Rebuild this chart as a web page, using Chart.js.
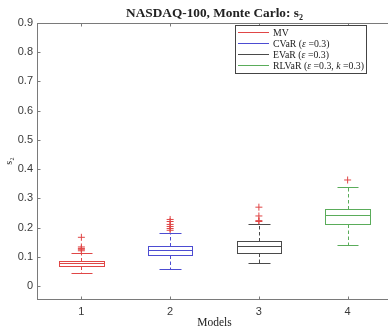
<!DOCTYPE html>
<html>
<head>
<meta charset="utf-8">
<script src="https://cdn.jsdelivr.net/npm/chart.js@4.4.1/dist/chart.umd.min.js"></script>
<style>
  html, body { margin: 0; padding: 0; background: #fff; }
  #wrap { width: 388px; height: 332px; overflow: hidden; position: relative; }
  canvas { display: block; }
</style>
</head>
<body>
<div id="wrap"><canvas id="c" width="397" height="332"></canvas></div>
<script>
// ---- data ----
const models = [1, 2, 3, 4];
const seriesNames = [
  [["MV", false]],
  [["CVaR (", false], ["ε", true], [" =0.3)", false]],
  [["EVaR (", false], ["ε", true], [" =0.3)", false]],
  [["RLVaR (", false], ["ε", true], [" =0.3, ", false], ["k", true], [" =0.3)", false]]
];
const seriesColors = ["#e04646", "#4c4cd2", "#4a4a4a", "#5aac5a"];
const whiskerLow  = [0.044, 0.058, 0.079, 0.140];
const q1          = [0.0685, 0.106, 0.115, 0.211];
const medians     = [0.078, 0.122, 0.136, 0.244];
const q3          = [0.0858, 0.138, 0.156, 0.265];
const whiskerHigh = [0.115, 0.182, 0.211, 0.338];
const outliersMV    = [0.121, 0.126, 0.129, 0.134, 0.167];
const outliersCVaR  = [0.191, 0.197, 0.204, 0.211, 0.221, 0.228];
const outliersEVaR  = [0.221, 0.224, 0.240, 0.270];
const outliersRLVaR = [0.363];
const yTicks = [0, 0.1, 0.2, 0.3, 0.4, 0.5, 0.6, 0.7, 0.8, 0.9];
const xTicks = [1, 2, 3, 4];

const outlierSets = [outliersMV, outliersCVaR, outliersEVaR, outliersRLVaR];
const outlierColor = "#e04646";
const axisColor = "#7a7a7a";

const boxPlugin = {
  id: "boxes",
  afterDatasetsDraw(chart) {
    const ctx = chart.ctx, xs = chart.scales.x, ys = chart.scales.y;
    const r = v => Math.round(v) + 0.5;
    ctx.save();
    ctx.lineWidth = 1;
    models.forEach((m, i) => {
      const col = seriesColors[i];
      const xl = r(xs.getPixelForValue(m - 0.25));
      const xr = r(xs.getPixelForValue(m + 0.25));
      const cl = r(xs.getPixelForValue(m - 0.12));
      const cr = r(xs.getPixelForValue(m + 0.12));
      const xc = r(xs.getPixelForValue(m));
      const yq1 = r(ys.getPixelForValue(q1[i]));
      const yq3 = r(ys.getPixelForValue(q3[i]));
      const ym = r(ys.getPixelForValue(medians[i]));
      const ylo = r(ys.getPixelForValue(whiskerLow[i]));
      const yhi = r(ys.getPixelForValue(whiskerHigh[i]));
      ctx.strokeStyle = col;
      ctx.setLineDash([3.5, 2.5]);
      ctx.beginPath();
      ctx.moveTo(xc, yq3); ctx.lineTo(xc, yhi);
      ctx.moveTo(xc, yq1); ctx.lineTo(xc, ylo);
      ctx.stroke();
      ctx.setLineDash([]);
      ctx.beginPath();
      ctx.moveTo(cl, yhi); ctx.lineTo(cr, yhi);
      ctx.moveTo(cl, ylo); ctx.lineTo(cr, ylo);
      ctx.stroke();
      ctx.strokeRect(xl, yq3, xr - xl, yq1 - yq3);
      ctx.beginPath();
      ctx.moveTo(xl, ym); ctx.lineTo(xr, ym);
      ctx.stroke();
    });
    ctx.restore();
  },
  afterDraw(chart) {
    const ctx = chart.ctx, xs = chart.scales.x, ys = chart.scales.y;
    const a = chart.chartArea;
    const L = Math.round(a.left) + 0.5, R = Math.round(a.right) - 0.5;
    const T = Math.round(a.top) + 0.5, B = Math.round(a.bottom) + 0.5;
    ctx.save();
    ctx.strokeStyle = axisColor;
    ctx.lineWidth = 1;
    ctx.strokeRect(L, T, R - L, B - T);
    const tl = 3;
    ctx.beginPath();
    yTicks.forEach(v => {
      const y = Math.round(ys.getPixelForValue(v)) + 0.5;
      ctx.moveTo(L, y); ctx.lineTo(L + tl, y);
      ctx.moveTo(R, y); ctx.lineTo(R - tl, y);
    });
    xTicks.forEach(v => {
      const x = Math.round(xs.getPixelForValue(v)) + 0.5;
      ctx.moveTo(x, B); ctx.lineTo(x, B - tl);
      ctx.moveTo(x, T); ctx.lineTo(x, T + tl);
    });
    ctx.stroke();

    // legend
    const lx = 235.5, ly = 25.5, lw = 131, lh = 48;
    ctx.fillStyle = "#fff";
    ctx.fillRect(lx, ly, lw, lh);
    ctx.strokeStyle = "#444";
    ctx.strokeRect(lx, ly, lw, lh);
    ctx.textBaseline = "middle";
    ctx.textAlign = "left";
    seriesNames.forEach((segs, i) => {
      const y = 32.5 + i * 11;
      ctx.strokeStyle = seriesColors[i];
      ctx.beginPath();
      ctx.moveTo(238, y); ctx.lineTo(269, y);
      ctx.stroke();
      let x = 273;
      ctx.fillStyle = "#222";
      segs.forEach(([t, it]) => {
        ctx.font = (it ? "italic " : "") + "9.8px 'Liberation Serif', 'DejaVu Serif', serif";
        ctx.fillText(t, x, y + 0.5);
        x += ctx.measureText(t).width;
      });
    });
    ctx.restore();
  }
};

const datasets = outlierSets.map((arr, i) => ({
  label: "outliers " + models[i],
  data: arr.map(v => ({ x: models[i], y: v })),
  pointStyle: "cross",
  radius: 3.5,
  pointBorderWidth: 1,
  borderColor: outlierColor,
  backgroundColor: outlierColor,
  showLine: false
}));

new Chart(document.getElementById("c"), {
  type: "scatter",
  data: { datasets },
  options: {
    responsive: false,
    animation: false,
    devicePixelRatio: 1,
    layout: { padding: { left: 0, right: 1, top: 0, bottom: 0 } },
    plugins: {
      legend: { display: false },
      tooltip: { enabled: false },
      title: {
        display: true,
        fullSize: false,
        text: "NASDAQ-100, Monte Carlo: s\u2082",
        color: "#222",
        font: { family: "'Liberation Serif', 'DejaVu Serif', serif", size: 13.3, weight: "bold" },
        padding: { top: 6, bottom: 1 }
      }
    },
    scales: {
      x: {
        type: "linear",
        min: 0.5, max: 4.5,
        afterBuildTicks: s => { s.ticks = xTicks.map(v => ({ value: v })); },
        afterFit: s => { s.height = 33; },
        grid: { display: false, drawTicks: false },
        border: { display: false },
        ticks: {
          color: "#3a3a3a",
          padding: 6,
          font: { family: "'Liberation Sans', Arial, sans-serif", size: 11 }
        },
        title: {
          display: true, text: "Models", color: "#222",
          font: { family: "'Liberation Serif', 'DejaVu Serif', serif", size: 11.5 },
          padding: { top: 0, bottom: 2 }
        }
      },
      y: {
        type: "linear",
        min: -0.044, max: 0.9,
        afterBuildTicks: s => { s.ticks = yTicks.map(v => ({ value: v })); },
        afterFit: s => { s.width = 37; },
        grid: { display: false, drawTicks: false },
        border: { display: false },
        ticks: {
          color: "#3a3a3a",
          padding: 4,
          font: { family: "'Liberation Sans', Arial, sans-serif", size: 11 }
        },
        title: {
          display: true, text: "s\u2082", color: "#222",
          font: { family: "'Liberation Serif', 'DejaVu Serif', serif", size: 10 },
          padding: { top: 3, bottom: 0 }
        }
      }
    }
  },
  plugins: [boxPlugin]
});
</script>
</body>
</html>
